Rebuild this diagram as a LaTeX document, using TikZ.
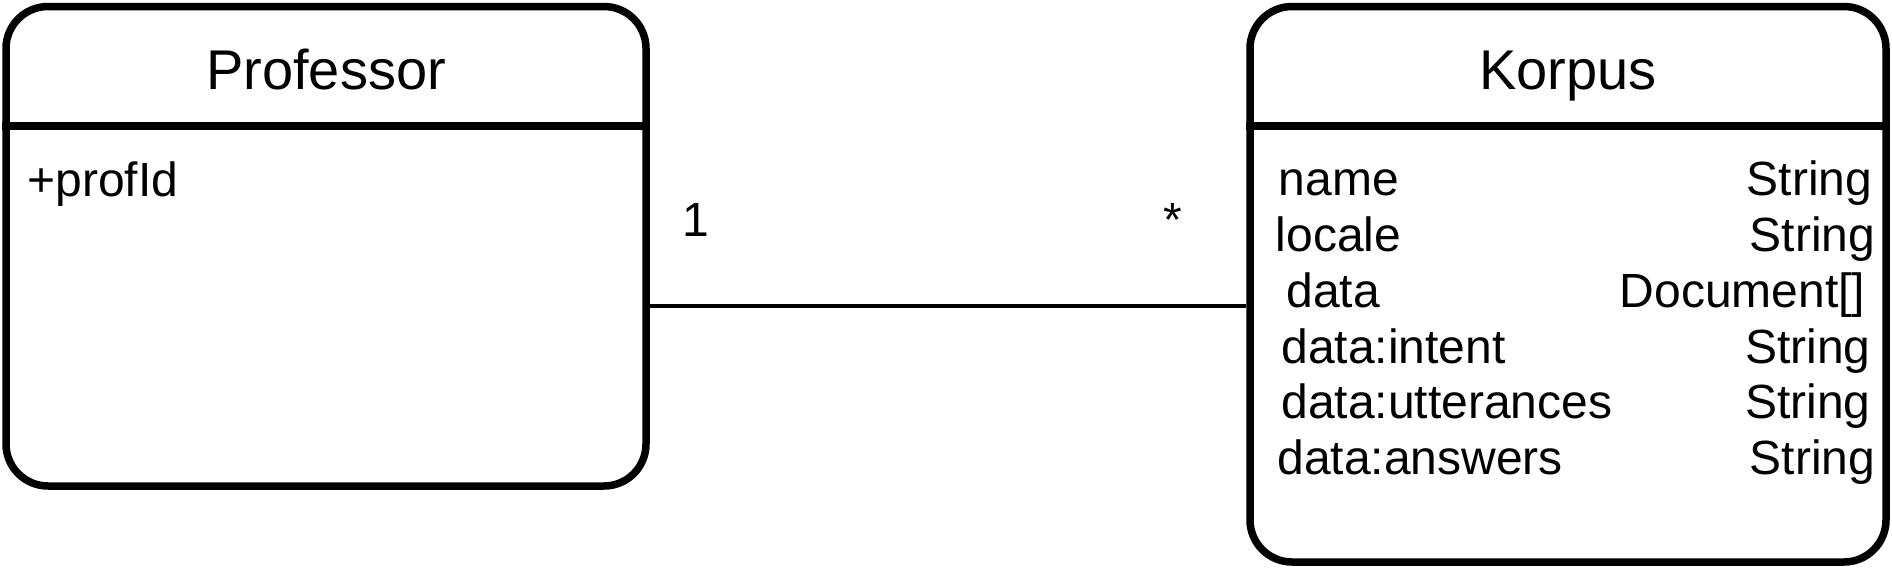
\documentclass[tikz,border=0pt]{standalone}
\usepackage{fontspec}
\setmainfont{Liberation Sans}
\begin{document}
\begin{tikzpicture}[x=0.5pt,y=-0.5pt,
  classbox/.style={draw=black, line width=3.75pt, rounded corners=21pt, inner sep=0pt, fill=none},
  title/.style={font=\fontsize{28pt}{32pt}\selectfont, anchor=base, inner sep=0pt},
  attr/.style={font=\fontsize{24pt}{28pt}\selectfont, anchor=base west, inner sep=0pt},
  atype/.style={font=\fontsize{24pt}{28pt}\selectfont, anchor=base east, inner sep=0pt},
  mult/.style={font=\fontsize{24pt}{28pt}\selectfont, anchor=base, inner sep=0pt},
  sep/.style={draw=black, line width=3.75pt},
  assoc/.style={draw=black, line width=2pt}]
\useasboundingbox (0,0) rectangle (1892,568);
% boxes
\node[classbox, minimum width=320pt, minimum height=239.75pt] (prof) at (326,246.25) {};
\node[classbox, minimum width=318pt, minimum height=277.75pt] (korpus) at (1568,284.25) {};
% header separators
\draw[sep] (prof.west |- 0,126) -- (prof.east |- 0,126);
\draw[sep] (korpus.west |- 0,126) -- (korpus.east |- 0,126);
% titles
\node[title] (proftitle) at (326,89) {Professor};
\node[title] (korpustitle) at (1568,89) {Korpus};
% professor attribute
\node[attr] (profid) at (27,196) {+profId};
% korpus attributes
\node[attr] (a1) at (1278.5,195.7) {name};
\node[attr] (a2) at (1275.5,251.5) {locale};
\node[attr] (a3) at (1286,307.3) {data};
\node[attr] (a4) at (1281,363.1) {data:intent};
\node[attr] (a5) at (1281,418.9) {data:utterances};
\node[attr] (a6) at (1277,474.7) {data:answers};
\node[atype] (t1) at (1872.5,195.7) {String};
\node[atype] (t2) at (1875.5,251.5) {String};
\node[atype] (t3) at (1865.5,307.3) {Document[]};
\node[atype] (t4) at (1871,363.1) {String};
\node[atype] (t5) at (1871,418.9) {String};
\node[atype] (t6) at (1875.5,474.7) {String};
% association
\draw[assoc] (prof.east |- 0,305.7) -- (korpus.west |- 0,305.7);
\node[mult] (m1) at (696,236) {1};
\node[mult] (m2) at (1173,236) {*};
\end{tikzpicture}
\end{document}
